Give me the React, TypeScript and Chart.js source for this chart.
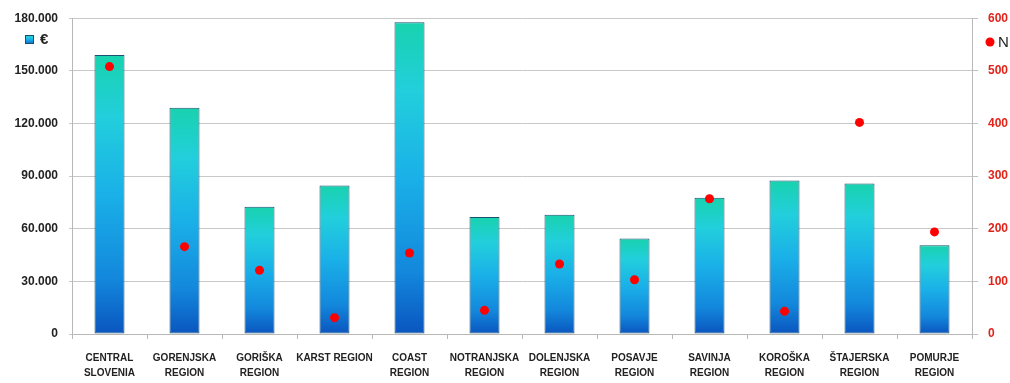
import React, { useEffect, useRef } from "react";
import { Chart, registerables } from "chart.js";

Chart.register(...registerables);

const categories: string[][] = [
  ["CENTRAL", "SLOVENIA", "REGION"],
  ["GORENJSKA", "REGION"],
  ["GORIŠKA", "REGION"],
  ["KARST REGION"],
  ["COAST", "REGION"],
  ["NOTRANJSKA", "REGION"],
  ["DOLENJSKA", "REGION"],
  ["POSAVJE", "REGION"],
  ["SAVINJA", "REGION"],
  ["KOROŠKA", "REGION"],
  ["ŠTAJERSKA", "REGION"],
  ["POMURJE", "REGION"],
];

const euroValues: number[] = [159000, 129000, 72500, 84700, 177700, 66700, 68000, 54500, 77700, 87500, 85800, 50600];
const nValues: number[] = [508, 166, 121, 31, 154, 45, 133, 103, 257, 43, 402, 194];

const leftMax = 180000;
const leftStep = 30000;
const rightMax = 600;
const rightStep = 100;

const legendBar = "€";
const legendDot = "N";

const FONT = "'Liberation Sans', Arial, sans-serif";

const fmtThousands = (v: number) => {
  const s = Math.round(v).toString();
  return s.replace(/\B(?=(\d{3})+(?!\d))/g, ".");
};

const addStops = (g: CanvasGradient) => {
  g.addColorStop(0, "#18d2ae");
  g.addColorStop(0.22, "#22cfdc");
  g.addColorStop(0.5, "#1ab0e8");
  g.addColorStop(0.8, "#1388dc");
  g.addColorStop(1, "#0a55bf");
  return g;
};

const legendPlugin = {
  id: "customLegend",
  afterDraw(chart: any) {
    const ctx = chart.ctx as CanvasRenderingContext2D;
    ctx.save();
    const g = ctx.createLinearGradient(0, 35, 0, 44);
    addStops(g);
    ctx.fillStyle = g;
    ctx.fillRect(25, 35, 9, 9);
    ctx.strokeStyle = "#1a5070";
    ctx.lineWidth = 1;
    ctx.strokeRect(25.5, 35.5, 8, 8);
    ctx.fillStyle = "#222";
    ctx.font = "bold 15px " + FONT;
    ctx.textBaseline = "middle";
    ctx.textAlign = "left";
    ctx.fillText(legendBar, 40, 40);
    ctx.beginPath();
    ctx.arc(990, 42, 4.5, 0, Math.PI * 2);
    ctx.fillStyle = "#ff0000";
    ctx.fill();
    ctx.fillStyle = "#222";
    ctx.font = "15px " + FONT;
    ctx.fillText(legendDot, 998, 43);
    ctx.restore();
  },
};

export default function App() {
  const ref = useRef<HTMLCanvasElement | null>(null);

  useEffect(() => {
    document.body.style.margin = "0";
    const canvas = ref.current;
    if (!canvas) return;
    const chart = new Chart(canvas, {
      type: "bar",
      data: {
        labels: categories as any,
        datasets: [
          {
            type: "line",
            label: legendDot,
            data: nValues,
            yAxisID: "y1",
            showLine: false,
            pointRadius: 4.5,
            pointBackgroundColor: "#ff0000",
            pointBorderWidth: 0,
            borderWidth: 0,
            order: 0,
          } as any,
          {
            type: "bar",
            label: legendBar,
            data: euroValues,
            yAxisID: "y",
            categoryPercentage: 1,
            barPercentage: 0.4,
            borderColor: "#1a5070",
            borderWidth: 1,
            borderSkipped: false,
            order: 1,
            backgroundColor: (c: any) => {
              const chart = c.chart;
              const yScale = chart.scales && chart.scales.y;
              if (!chart.chartArea || !yScale || c.raw == null) return "#1aa8e6";
              const top = yScale.getPixelForValue(c.raw);
              const bottom = yScale.getPixelForValue(0);
              const g = chart.ctx.createLinearGradient(0, top, 0, bottom);
              return addStops(g);
            },
          } as any,
        ],
      },
      options: {
        responsive: false,
        animation: false,
        layout: { padding: { top: 17, left: 0, right: 0, bottom: 0 } },
        plugins: {
          legend: { display: false },
          tooltip: { enabled: false },
        },
        scales: {
          x: {
            offset: true,
            grid: {
              offset: true,
              drawOnChartArea: false,
              drawTicks: true,
              tickLength: 5,
              color: "#b8b8b8",
            },
            border: { display: true, color: "#b8b8b8" },
            ticks: {
              autoSkip: false,
              maxRotation: 0,
              minRotation: 0,
              padding: 12,
              color: "#222",
              font: { family: FONT, size: 10, weight: "bold", lineHeight: 1.5 },
            },
            afterFit: (s: any) => {
              s.height = 49;
            },
          },
          y: {
            position: "left",
            min: 0,
            max: leftMax,
            ticks: {
              stepSize: leftStep,
              padding: 11,
              color: "#222",
              font: { family: FONT, size: 12, weight: "bold" },
              callback: (v: any) => fmtThousands(Number(v)),
            },
            grid: { color: "#c8c8c8", tickLength: 3, lineWidth: 1 },
            border: { display: true, color: "#b8b8b8" },
            afterFit: (s: any) => {
              s.width = 72;
            },
          },
          y1: {
            position: "right",
            min: 0,
            max: rightMax,
            ticks: {
              stepSize: rightStep,
              padding: 10,
              color: "#e2231a",
              font: { family: FONT, size: 12, weight: "bold" },
            },
            grid: { drawOnChartArea: false, color: "#c0c0c0", tickLength: 6 },
            border: { display: true, color: "#b8b8b8" },
            afterFit: (s: any) => {
              s.width = 38;
            },
          },
        },
      },
      plugins: [legendPlugin],
    });
    return () => chart.destroy();
  }, []);

  return (
    <canvas
      ref={ref}
      width={1010}
      height={383}
      style={{ display: "block", width: "1010px", height: "383px" }}
    />
  );
}
